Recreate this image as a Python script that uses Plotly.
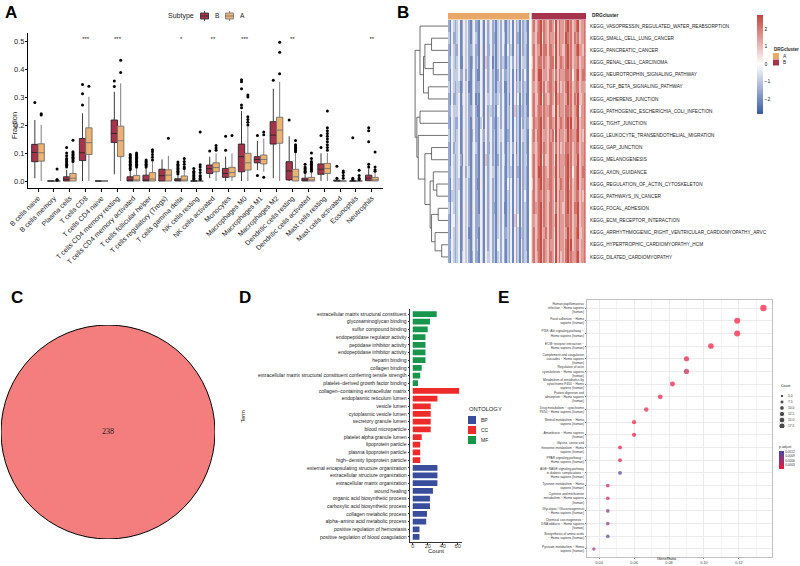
import math
import plotly.graph_objects as go

W, H = 800, 566
def px(x): return x / W
def py(y): return 1 - y / H

FONT = "Liberation Sans"

# ---------------- Panel A data ----------------
cells = ["B cells naive", "B cells memory", "Plasma cells", "T cells CD8", "T cells CD4 naive",
         "T cells CD4 memory resting", "T cells CD4 memory activated", "T cells follicular helper",
         "T cells regulatory (Tregs)", "T cells gamma delta", "NK cells resting", "NK cells activated",
         "Monocytes", "Macrophages M0", "Macrophages M1", "Macrophages M2", "Dendritic cells resting",
         "Dendritic cells activated", "Mast cells resting", "Mast cells activated", "Eosinophils", "Neutrophils"]
B_q1 = [0.069, 0, 0, 0.073, 0, 0.138, 0, 0, 0, 0, 0, 0.027, 0.013, 0.033, 0.065, 0.132, 0.004, 0, 0.024, 0, 0, 0.001]
B_med = [0.102, 0, 0.006, 0.101, 0, 0.170, 0, 0, 0.019, 0, 0, 0.044, 0.027, 0.087, 0.077, 0.164, 0.036, 0, 0.042, 0, 0, 0.010]
B_q3 = [0.131, 0, 0.015, 0.152, 0, 0.218, 0.015, 0.021, 0.042, 0.008, 0, 0.057, 0.045, 0.132, 0.087, 0.212, 0.069, 0.010, 0.061, 0.003, 0, 0.021]
B_lo = [0.010, 0, 0, 0, 0, 0.024, 0, 0, 0, 0, 0, 0.010, 0, 0, 0.039, 0.010, 0, 0, 0, 0, 0, 0]
B_hi = [0.218, 0, 0.040, 0.242, 0, 0.319, 0.037, 0.050, 0.077, 0.020, 0, 0.087, 0.087, 0.250, 0.143, 0.330, 0.160, 0.025, 0.099, 0.007, 0, 0.045]
A_q1 = [0.071, 0, 0, 0.095, 0, 0.087, 0, 0, 0, 0, 0, 0.033, 0.015, 0.039, 0.061, 0.135, 0, 0, 0.027, 0, 0, 0]
A_med = [0.101, 0, 0.010, 0.137, 0, 0.144, 0.004, 0.007, 0.021, 0.002, 0, 0.048, 0.030, 0.065, 0.077, 0.182, 0.015, 0.001, 0.045, 0, 0, 0.004]
A_q3 = [0.133, 0, 0.027, 0.190, 0, 0.196, 0.020, 0.030, 0.040, 0.018, 0, 0.065, 0.049, 0.099, 0.093, 0.228, 0.042, 0.013, 0.063, 0, 0, 0.013]
A_lo = [0, 0, 0, 0, 0, 0, 0, 0, 0, 0, 0, 0, 0, 0, 0.033, 0, 0, 0, 0, 0, 0, 0]
A_hi = [0.200, 0, 0.065, 0.301, 0, 0.349, 0.050, 0.070, 0.090, 0.040, 0, 0.099, 0.099, 0.194, 0.152, 0.355, 0.100, 0.030, 0.100, 0, 0, 0.030]
out_B = [[0.281], [], [0.05, 0.055, 0.06, 0.065, 0.07, 0.075, 0.08, 0.09, 0.1, 0.12], [0.272, 0.312, 0.345], [],
         [0.338, 0.357], [0.04, 0.045, 0.05, 0.055, 0.06, 0.065, 0.07, 0.075, 0.08, 0.085, 0.09, 0.095],
         [0.05, 0.055, 0.06, 0.065, 0.07, 0.075], [], [0.025, 0.03, 0.035, 0.04, 0.045, 0.05, 0.055, 0.06, 0.068],
         [0.005, 0.01, 0.015, 0.02, 0.025, 0.03, 0.035, 0.045], [0.107], [0.11, 0.16],
         [0.262, 0.272, 0.33, 0.355, 0.362], [0.02, 0.163], [0.36], [0.218],
         [0.03, 0.035, 0.04, 0.045, 0.05, 0.06], [0.12, 0.163], [0.01, 0.053], [0.005, 0.01, 0.155],
         [0.05, 0.06, 0.14, 0.18, 0.19]]
out_A = [[0.236, 0.24], [0.003, 0.005, 0.043], [0.07, 0.075, 0.08, 0.085, 0.09, 0.095, 0.1, 0.105, 0.146], [0.339], [],
         [0.388, 0.432], [0.05, 0.055, 0.06, 0.065, 0.07, 0.075, 0.08, 0.085, 0.09, 0.095, 0.1],
         [0.075, 0.085, 0.095, 0.105, 0.112], [0.153], [0.045, 0.05, 0.06, 0.07, 0.08],
         [0.005, 0.01, 0.015, 0.02, 0.03, 0.04, 0.05, 0.058, 0.175], [0.11, 0.118, 0.127], [0.163],
         [0.2, 0.21, 0.22, 0.23, 0.3, 0.307], [0.013, 0.165, 0.175], [0.383, 0.46, 0.496],
         [0.105, 0.11, 0.115, 0.12, 0.125, 0.13, 0.145], [0.035, 0.04, 0.045, 0.05, 0.055, 0.06, 0.065, 0.07, 0.08, 0.1],
         [0.11, 0.12, 0.13, 0.14, 0.15, 0.16, 0.17, 0.18, 0.19, 0.25], [0.01, 0.02, 0.03, 0.036],
         [0.005, 0.01, 0.02, 0.038], [0.035, 0.04, 0.05, 0.104]]
signif = ["", "", "", "***", "", "***", "", "", "", "*", "", "**", "", "***", "", "", "**", "", "", "", "", "**"]
signif_level = 0.507

# ---------------- Panel B data ----------------
kegg = ["KEGG_VASOPRESSIN_REGULATED_WATER_REABSORPTION", "KEGG_SMALL_CELL_LUNG_CANCER", "KEGG_PANCREATIC_CANCER",
        "KEGG_RENAL_CELL_CARCINOMA", "KEGG_NEUROTROPHIN_SIGNALING_PATHWAY", "KEGG_TGF_BETA_SIGNALING_PATHWAY",
        "KEGG_ADHERENS_JUNCTION", "KEGG_PATHOGENIC_ESCHERICHIA_COLI_INFECTION", "KEGG_TIGHT_JUNCTION",
        "KEGG_LEUKOCYTE_TRANSENDOTHELIAL_MIGRATION", "KEGG_GAP_JUNCTION", "KEGG_MELANOGENESIS", "KEGG_AXON_GUIDANCE",
        "KEGG_REGULATION_OF_ACTIN_CYTOSKELETON", "KEGG_PATHWAYS_IN_CANCER", "KEGG_FOCAL_ADHESION",
        "KEGG_ECM_RECEPTOR_INTERACTION", "KEGG_ARRHYTHMOGENIC_RIGHT_VENTRICULAR_CARDIOMYOPATHY_ARVC",
        "KEGG_HYPERTROPHIC_CARDIOMYOPATHY_HCM", "KEGG_DILATED_CARDIOMYOPATHY"]
# digit-coded z-scores (0..9 -> -2.7..2.7); cluster A block | cluster B block
heat_A = ["21432341 25342134 22143152 34231342 42132415 23142321",
          "31422341 24352134 32143142 34221342 43132415 22142331",
          "21532241 25342234 22153152 24231352 42142315 23152321",
          "22432341 15342124 23143162 34131342 32132425 23143321",
          "21433342 25242134 21143152 35231242 42232415 13142421",
          "31432331 25341134 22243152 34231332 41132515 23242321",
          "21422341 35342134 12143153 34232342 42131415 24142311",
          "22433341 25342234 21143152 33231442 42132416 23132321",
          "21432241 24342135 22134152 34221342 52132414 23142322",
          "31432341 25352124 22143252 34231343 42122415 23143321",
          "21423341 25342134 32143152 24231342 42132425 13142321",
          "21432342 15342134 22143162 34231242 43132415 23142331",
          "22432341 25243134 22143152 34331342 42132315 22142321",
          "21432331 25342134 21153152 34231342 42142415 23152321",
          "21332341 24342134 22143142 35231342 42132415 23142421",
          "31432341 25342135 22143152 34221342 41132415 23142321",
          "21442341 25342134 22243152 34231352 42132416 24142321",
          "21432351 25341134 22143152 34231342 42232415 23132321",
          "22432341 25342134 23143152 34231442 42132415 23142321",
          "21432341 35342124 22143153 34231342 42132415 23142331"]
heat_B = ["78678968 76887596 87768978 67896778",
          "77688958 76877696 87769878 68786778",
          "78677968 86887596 87668978 67897768",
          "68678868 76788596 78768978 67786778",
          "78679967 76887586 87778878 57896788",
          "77678968 67887696 86768978 67886777",
          "78668958 76787597 87767978 68796678",
          "78678868 77886596 87768878 67895778",
          "68778968 76887696 78768979 67796778",
          "78688967 76878596 87767978 77896768",
          "77678968 76887586 86768878 67886778",
          "78678958 66887596 87778978 67796778",
          "78679968 76887696 87768978 57896788",
          "68678968 77887596 78768968 67896778",
          "78678868 76787596 87768978 67886768",
          "78778968 76887586 87668978 68896778",
          "77678968 76887696 87768878 67796778",
          "78678967 86887596 87767978 67896678",
          "78688968 76877596 87768979 67886778",
          "78678968 76887596 86768978 77896778"]
# dendrogram merges: (node a, node b, height); leaves 0..19, new nodes numbered from 20
merges = [(1, 2, 4.7), (3, 4, 4.2), (5, 6, 5.6), (20, 21, 6.6), (23, 22, 7.0), (0, 24, 8.0), (7, 8, 8.0),
          (18, 19, 1.8), (17, 27, 3.7), (15, 16, 2.8), (29, 28, 4.7), (13, 14, 3.2), (12, 31, 4.2), (32, 30, 5.1),
          (10, 11, 4.7), (34, 33, 6.6), (9, 35, 8.5), (26, 36, 8.9), (25, 37, 9.4)]

# ---------------- Panel C data ----------------
venn_label = "B−A"
venn_count = 238

# ---------------- Panel D data ----------------
go_terms = ["extracellular matrix structural constituent", "glycosaminoglycan binding", "sulfur compound binding",
            "endopeptidase regulator activity", "peptidase inhibitor activity", "endopeptidase inhibitor activity",
            "heparin binding", "collagen binding",
            "extracellular matrix structural constituent conferring tensile strength",
            "platelet−derived growth factor binding",
            "collagen−containing extracellular matrix", "endoplasmic reticulum lumen", "vesicle lumen",
            "cytoplasmic vesicle lumen", "secretory granule lumen", "blood microparticle",
            "platelet alpha granule lumen", "lipoprotein particle", "plasma lipoprotein particle",
            "high−density lipoprotein particle",
            "external encapsulating structure organization", "extracellular structure organization",
            "extracellular matrix organization", "wound healing", "organic acid biosynthetic process",
            "carboxylic acid biosynthetic process", "collagen metabolic process",
            "alpha−amino acid metabolic process", "positive regulation of hemostasis",
            "positive regulation of blood coagulation"]
go_counts = [32, 23, 20, 17, 17, 17, 17, 12, 10, 7,
             62, 33, 24, 24, 24, 24, 12, 10, 10, 10,
             33, 33, 33, 27, 23, 23, 19, 18, 9, 9]
go_ont = ["MF"] * 10 + ["CC"] * 10 + ["BP"] * 10
ont_levels = ["BP", "CC", "MF"]
ont_colors = {"BP": "#3A4C9C", "CC": "#EE2B2B", "MF": "#17964C"}

# ---------------- Panel E data ----------------
kegg_terms = ["Human papillomavirus<br>infection − Homo sapiens<br>(human)",
              "Focal adhesion − Homo<br>sapiens (human)",
              "PI3K−Akt signaling pathway −<br>Homo sapiens (human)",
              "ECM−receptor interaction −<br>Homo sapiens (human)",
              "Complement and coagulation<br>cascades − Homo sapiens<br>(human)",
              "Regulation of actin<br>cytoskeleton − Homo sapiens<br>(human)",
              "Metabolism of xenobiotics by<br>cytochrome P450 − Homo<br>sapiens (human)",
              "Protein digestion and<br>absorption − Homo sapiens<br>(human)",
              "Drug metabolism − cytochrome<br>P450 − Homo sapiens (human)",
              "Retinol metabolism − Homo<br>sapiens (human)",
              "Amoebiasis − Homo sapiens<br>(human)",
              "Glycine, serine and<br>threonine metabolism − Homo<br>sapiens (human)",
              "PPAR signaling pathway −<br>Homo sapiens (human)",
              "AGE−RAGE signaling pathway<br>in diabetic complications −<br>Homo sapiens (human)",
              "Tyrosine metabolism − Homo<br>sapiens (human)",
              "Cysteine and methionine<br>metabolism − Homo sapiens<br>(human)",
              "Glycolysis / Gluconeogenesis<br>− Homo sapiens (human)",
              "Chemical carcinogenesis −<br>DNA adducts − Homo sapiens<br>(human)",
              "Biosynthesis of amino acids<br>− Homo sapiens (human)",
              "Pyruvate metabolism − Homo<br>sapiens (human)"]
gene_ratio = [0.134, 0.119, 0.119, 0.104, 0.090, 0.090, 0.082, 0.075, 0.067, 0.060,
              0.060, 0.052, 0.052, 0.052, 0.045, 0.045, 0.045, 0.045, 0.045, 0.037]
kegg_count = [18, 16, 16, 14, 12, 12, 11, 10, 9, 8, 8, 7, 7, 7, 6, 6, 6, 6, 6, 5]
p_adjust = [0.00002, 0.00003, 0.00003, 0.00004, 0.00005, 0.00028, 0.00006, 0.00008, 0.0001, 0.0001,
            0.00012, 0.00015, 0.0002, 0.00108, 0.0002, 0.0002, 0.00078, 0.00075, 0.00112, 0.0007]
count_breaks = [5.0, 7.5, 10.0, 12.5, 15.0, 17.5]
padj_ticks = [0.0003, 0.0006, 0.0009, 0.0012]

COL_B = "#A5344C"
COL_A = "#EBB272"

fig = go.Figure()

# ---------- Panel A ----------
n = len(cells)
xB = [i - 0.2 for i in range(n)]
xA = [i + 0.2 for i in range(n)]
fig.add_trace(go.Box(x=xB, q1=B_q1, median=B_med, q3=B_q3, lowerfence=B_lo, upperfence=B_hi,
                     orientation="v", width=0.4, whiskerwidth=0, boxpoints=False, fillcolor=COL_B,
                     line=dict(color="#262626", width=0.9), xaxis="x", yaxis="y", hoverinfo="skip"))
fig.add_trace(go.Box(x=xA, q1=A_q1, median=A_med, q3=A_q3, lowerfence=A_lo, upperfence=A_hi,
                     orientation="v", width=0.4, whiskerwidth=0, boxpoints=False, fillcolor=COL_A,
                     line=dict(color="#707070", width=0.9), xaxis="x", yaxis="y", hoverinfo="skip"))
for pos, outs in ((xB, out_B), (xA, out_A)):
    ox, oy = [], []
    for i, vals in enumerate(outs):
        for v in vals:
            ox.append(pos[i]); oy.append(v)
    fig.add_trace(go.Scatter(x=ox, y=oy, mode="markers", marker=dict(color="black", size=3),
                             xaxis="x", yaxis="y", hoverinfo="skip"))
fig.add_trace(go.Scatter(x=list(range(n)), y=[signif_level] * n, text=signif, mode="text",
                         textfont=dict(size=6, color="#222"), xaxis="x", yaxis="y", hoverinfo="skip"))

# ---------- Panel B ----------
def decode(rows):
    return [[(int(c) - 4.5) * 0.6 for c in r.replace(" ", "")] for r in rows]
zA = decode(heat_A)
zB = decode(heat_B)
nA, nB = len(zA[0]), len(zB[0])
gap = 1.3
xa_cols = list(range(nA))
xb_cols = [nA + gap + j for j in range(nB)]
fig.add_trace(go.Heatmap(z=zA, x=xa_cols, y=kegg, coloraxis="coloraxis", xaxis="x2", yaxis="y2", hoverinfo="skip"))
fig.add_trace(go.Heatmap(z=zB, x=xb_cols, y=kegg, coloraxis="coloraxis", xaxis="x2", yaxis="y2", hoverinfo="skip"))

pos = {i: float(i) for i in range(len(kegg))}
hgt = {i: 0.0 for i in range(len(kegg))}
dx, dy = [], []
node = len(kegg)
for a, b, h in merges:
    dx += [hgt[a], h, h, hgt[b], None]
    dy += [pos[a], pos[a], pos[b], pos[b], None]
    pos[node] = (pos[a] + pos[b]) / 2
    hgt[node] = h
    node += 1
fig.add_trace(go.Scatter(x=dx, y=dy, mode="lines", line=dict(color="#4d4d4d", width=0.8),
                         xaxis="x3", yaxis="y3", hoverinfo="skip"))

# ---------- Panel C ----------
fig.add_trace(go.Scatter(x=[0], y=[0], text=[str(venn_count)], mode="text",
                         textfont=dict(family="Liberation Serif", size=8, color="#222"),
                         xaxis="x4", yaxis="y4", hoverinfo="skip"))

# ---------- Panel D ----------
for ont in ont_levels:
    ys = [t for t, o in zip(go_terms, go_ont) if o == ont]
    xs = [c for c, o in zip(go_counts, go_ont) if o == ont]
    fig.add_trace(go.Bar(x=xs, y=ys, orientation="h", marker=dict(color=ont_colors[ont], line=dict(width=0)),
                         width=0.75, xaxis="x5", yaxis="y5", hoverinfo="skip"))

# ---------- Panel E ----------
fig.add_trace(go.Scatter(x=gene_ratio, y=kegg_terms, mode="markers",
                         marker=dict(size=[1.5 * math.sqrt(c) for c in kegg_count], color=p_adjust,
                                     coloraxis="coloraxis2", line=dict(width=0)),
                         xaxis="x6", yaxis="y6", hoverinfo="skip"))
fig.add_trace(go.Scatter(x=[0.25] * len(count_breaks), y=count_breaks, mode="markers",
                         marker=dict(size=[1.5 * math.sqrt(c) for c in count_breaks], color="black"),
                         xaxis="x7", yaxis="y7", hoverinfo="skip"))
fig.add_trace(go.Scatter(x=[0.5] * len(count_breaks), y=count_breaks, mode="text",
                         text=[f"{c:.1f}" for c in count_breaks], textposition="middle right",
                         textfont=dict(size=3.3, color="#333"), xaxis="x7", yaxis="y7", hoverinfo="skip"))

# ---------- Layout ----------
hidden = dict(visible=False, showgrid=False, zeroline=False)
heat_top, heat_bot = 20, 263
shapes = []
annotations = []

# annotation bar for heatmap
shapes.append(dict(type="rect", xref="x2", yref="paper", x0=-0.5, x1=nA - 0.5, y0=py(19.5), y1=py(13),
                   fillcolor="#E8A868", line=dict(width=0)))
shapes.append(dict(type="rect", xref="x2", yref="paper", x0=nA + gap - 0.5, x1=nA + gap + nB - 0.5,
                   y0=py(19.5), y1=py(13), fillcolor=COL_B, line=dict(width=0)))
# venn circle
shapes.append(dict(type="circle", xref="x4", yref="y4", x0=-1, x1=1, y0=-1, y1=1,
                   fillcolor="#F47D7D", line=dict(color="black", width=1), layer="below"))
# panel A legend keys
for cx, col, lc, lab in ((204.5, COL_B, "#262626", "B"), (229.5, COL_A, "#707070", "A")):
    shapes.append(dict(type="line", xref="paper", yref="paper", x0=px(cx), x1=px(cx), y0=py(11), y1=py(21),
                       line=dict(color=lc, width=0.8)))
    shapes.append(dict(type="rect", xref="paper", yref="paper", x0=px(cx - 4), x1=px(cx + 4), y0=py(19), y1=py(13),
                       fillcolor=col, line=dict(color=lc, width=0.8)))
    shapes.append(dict(type="line", xref="paper", yref="paper", x0=px(cx - 4), x1=px(cx + 4), y0=py(16), y1=py(16),
                       line=dict(color=lc, width=0.8)))
    annotations.append(dict(x=px(cx + 9), y=py(16), xref="paper", yref="paper", text=lab, showarrow=False,
                            xanchor="left", yanchor="middle", font=dict(size=6.5, color="#222")))
annotations.append(dict(x=px(196), y=py(16), xref="paper", yref="paper", text="Subtype", showarrow=False,
                        xanchor="right", yanchor="middle", font=dict(size=7, color="#222")))
# DRGcluster legend
annotations.append(dict(x=px(590), y=py(16), xref="paper", yref="paper", text="<b>DRGcluster</b>", showarrow=False,
                        xanchor="left", yanchor="middle", font=dict(size=4.8, color="#222")))
annotations.append(dict(x=px(772), y=py(49.5), xref="paper", yref="paper", text="<b>DRGcluster</b>", showarrow=False,
                        xanchor="left", yanchor="middle", font=dict(size=4.5, color="#222")))
for yy, col, lab in ((53, "#E8A868", "A"), (59.5, COL_B, "B")):
    shapes.append(dict(type="rect", xref="paper", yref="paper", x0=px(773), x1=px(779), y0=py(yy + 6), y1=py(yy),
                       fillcolor=col, line=dict(width=0)))
    annotations.append(dict(x=px(781), y=py(yy + 3), xref="paper", yref="paper", text=lab, showarrow=False,
                            xanchor="left", yanchor="middle", font=dict(size=4.8, color="#222")))
# ONTOLOGY legend
annotations.append(dict(x=px(467), y=py(409), xref="paper", yref="paper", text="ONTOLOGY", showarrow=False,
                        xanchor="left", yanchor="middle", font=dict(size=5.8, color="#222")))
for k, ont in enumerate(ont_levels):
    yy = 416 + 10 * k
    shapes.append(dict(type="rect", xref="paper", yref="paper", x0=px(468), x1=px(476), y0=py(yy + 8), y1=py(yy),
                       fillcolor=ont_colors[ont], line=dict(width=0)))
    annotations.append(dict(x=px(479), y=py(yy + 4), xref="paper", yref="paper", text=ont, showarrow=False,
                            xanchor="left", yanchor="middle", font=dict(size=5, color="#222")))
# axis titles and panel text
annotations += [
    dict(x=px(8), y=py(110), xref="paper", yref="paper", text="Fraction", textangle=-90, showarrow=False,
         font=dict(size=7.5, color="#222")),
    dict(x=px(237), y=py(425), xref="paper", yref="paper", text="Term", textangle=-90, showarrow=False,
         font=dict(size=5.5, color="#222")),
    dict(x=px(436), y=py(555.5), xref="paper", yref="paper", text="Count", showarrow=False,
         font=dict(size=6, color="#222")),
    dict(x=px(679), y=py(562.5), xref="paper", yref="paper", text="GeneRatio", showarrow=False,
         font=dict(size=4, color="#222")),
    dict(x=px(779), y=py(390), xref="paper", yref="paper", text="Count", showarrow=False, xanchor="left",
         font=dict(size=3.5, color="#222")),
    dict(x=0, y=1.13, xref="x4", yref="y4", text=venn_label, showarrow=False,
         font=dict(family="Liberation Serif", size=7.5, color="#333")),
]
for lab, xx, yy in (("A", 11, 12), ("B", 403, 12), ("C", 17, 297), ("D", 245, 297), ("E", 503, 297)):
    annotations.append(dict(x=px(xx), y=py(yy), xref="paper", yref="paper", text=f"<b>{lab}</b>", showarrow=False,
                            xanchor="center", yanchor="middle", font=dict(size=17, color="black")))

fig.update_layout(
    width=W, height=H, margin=dict(l=0, r=0, t=0, b=0), template="none",
    paper_bgcolor="white", plot_bgcolor="rgba(0,0,0,0)", showlegend=False,
    font=dict(family=FONT, color="#222"),
    boxmode="overlay",
    xaxis=dict(domain=[px(28), px(383)], range=[-0.63, 21.7], tickvals=list(range(n)), ticktext=cells,
               tickangle=-45, tickfont=dict(size=7, color="#222"), showline=True, linecolor="black",
               linewidth=1, ticks="outside", ticklen=2.5, tickcolor="black", showgrid=False, zeroline=False,
               anchor="y"),
    yaxis=dict(domain=[py(188), py(33)], range=[-0.025, 0.529], tickvals=[0, 0.1, 0.2, 0.3, 0.4, 0.5],
               ticktext=["0.0", "0.1", "0.2", "0.3", "0.4", "0.5"], tickfont=dict(size=7.5, color="#222"),
               showline=True, linecolor="black", linewidth=1, ticks="outside", ticklen=2, tickcolor="black",
               ticklabelstandoff=-1, showgrid=False, zeroline=False, anchor="x"),
    xaxis2=dict(domain=[px(448), px(586)], range=[-0.5, nA + gap + nB - 0.5], anchor="y2", **hidden),
    yaxis2=dict(domain=[py(heat_bot), py(heat_top)], range=[len(kegg) - 0.5, -0.5], anchor="x2", side="right",
                type="category", showgrid=False, zeroline=False, ticks="", ticklabelstandoff=3,
                tickfont=dict(size=4.7, color="#222")),
    xaxis3=dict(domain=[px(413), px(448)], range=[10, 0], anchor="y3", **hidden),
    yaxis3=dict(domain=[py(heat_bot), py(heat_top)], range=[len(kegg) - 0.5, -0.5], anchor="x3", **hidden),
    xaxis4=dict(domain=[px(1), px(215)], range=[-1, 1], anchor="y4", **hidden),
    yaxis4=dict(domain=[py(539), py(325)], range=[-1, 1], anchor="x4", **hidden),
    xaxis5=dict(domain=[px(410.4), px(461.5)], range=[-3.1, 65.1], tickvals=[0, 20, 40, 60],
                tickfont=dict(size=5.5, color="#333"), showline=True, linecolor="#333", linewidth=0.8,
                ticks="outside", ticklen=2, tickcolor="#333", ticklabelstandoff=-3,
                showgrid=False, zeroline=False, anchor="y5"),
    yaxis5=dict(domain=[py(541.6), py(309.4)], type="category", categoryorder="array", categoryarray=go_terms,
                range=[len(go_terms) - 0.4, -0.6], tickfont=dict(size=5, color="#222"), showline=True,
                linecolor="#333", linewidth=0.8, ticks="outside", ticklen=2, tickcolor="#333",
                showgrid=False, zeroline=False, anchor="x5"),
    xaxis6=dict(domain=[px(587), px(772)], range=[0.0331, 0.1389], tickvals=[0.04, 0.06, 0.08, 0.10, 0.12],
                ticktext=["0.04", "0.06", "0.08", "0.10", "0.12"], tickfont=dict(size=3.8, color="#444"),
                showgrid=True, gridcolor="#EBEBEB", gridwidth=0.6,
                minor=dict(tickvals=[0.05, 0.07, 0.09, 0.11, 0.13], showgrid=True, gridcolor="#F4F4F4",
                           gridwidth=0.4),
                showline=True, mirror=True, linecolor="#C0C0C0", linewidth=0.8, ticks="outside", ticklen=1.5,
                tickcolor="#888", zeroline=False, anchor="y6"),
    yaxis6=dict(domain=[py(556.6), py(300.4)], type="category", categoryorder="array", categoryarray=kegg_terms,
                range=[len(kegg_terms) - 0.4, -0.6], tickfont=dict(size=3.2, color="#333"),
                showgrid=True, gridcolor="#EBEBEB", gridwidth=0.6, showline=True, mirror=True,
                linecolor="#C0C0C0", linewidth=0.8, ticks="outside", ticklen=1.5, tickcolor="#888",
                zeroline=False, anchor="x6"),
    xaxis7=dict(domain=[px(776), px(800)], range=[0, 1], anchor="y7", **hidden),
    yaxis7=dict(domain=[py(428), py(393)], range=[18.33, 3.75], anchor="x7", **hidden),
    coloraxis=dict(colorscale=[[0, "#3B5BA3"], [0.5, "#FFFFFF"], [1, "#C3463D"]], cmin=-2.85, cmax=2.8,
                   colorbar=dict(x=px(757), xanchor="left", y=py(15), yanchor="top", len=99 / H, lenmode="fraction",
                                 thickness=6, outlinewidth=0, tickvals=[-2, -1, 0, 1, 2],
                                 ticktext=["−2", "−1", "0", "1", "2"], ticks="", xpad=0, ypad=0,
                                 tickfont=dict(size=5, color="#222"))),
    coloraxis2=dict(colorscale=[[0, "#F5153A"], [1, "#4747AD"]], cmin=0.00001, cmax=0.00125,
                    colorbar=dict(x=px(779), xanchor="left", y=py(442), yanchor="top", len=27 / H,
                                  lenmode="fraction", thickness=5, outlinewidth=0, tickvals=padj_ticks,
                                  ticktext=[f"{t:.4f}" for t in padj_ticks], ticks="", xpad=0, ypad=0,
                                  tickfont=dict(size=3.2, color="#333"),
                                  title=dict(text="p.adjust", side="top", font=dict(size=3.5, color="#333")))),
    shapes=shapes, annotations=annotations,
)

fig.write_html("out.html", config={"displayModeBar": False},
               post_script="document.body.style.margin='0px';document.body.style.overflow='hidden';")
